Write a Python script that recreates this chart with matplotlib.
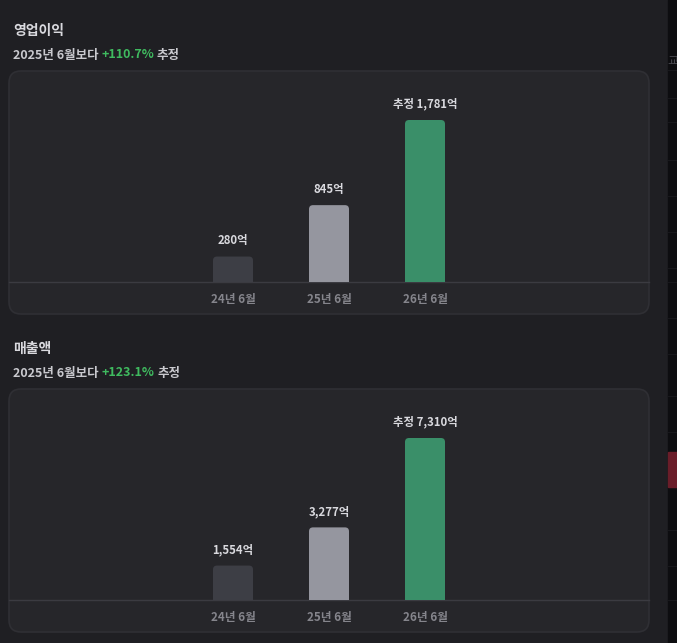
import matplotlib
matplotlib.use("Agg")
import matplotlib.pyplot as plt
from matplotlib.patches import FancyBboxPatch, Rectangle

plt.rcParams['font.family'] = ['Noto Sans CJK KR', 'DejaVu Sans']

# data
periods = ["24년 6월", "25년 6월", "26년 6월"]
op_profit = [280, 845, 1781]
revenue = [1554, 3277, 7310]
op_growth = "+110.7%"
rev_growth = "+123.1%"
estimated = [False, False, True]

W, H = 677, 643
BG = "#1f1f23"
PANEL = "#26262a"
BORDER = "#2f2f34"
BAR_COLORS = ["#3d3e45", "#95969f", "#3a8f69"]
GREEN = "#3fba5f"
TEXT = "#d9d9de"
SUB = "#c9c9ce"
TICK = "#85858c"

fig = plt.figure(figsize=(W / 100, H / 100), dpi=100)
fig.patch.set_facecolor(BG)

# background axes in pixel coords (y down)
bg = fig.add_axes([0, 0, 1, 1])
bg.set_xlim(0, W)
bg.set_ylim(H, 0)
bg.axis("off")

# right side strip of the page
bg.add_patch(Rectangle((668, 0), W - 668, H, color="#0d0d10", zorder=0))
for yy in [70, 98, 122, 160, 196, 232, 268, 282, 318, 354, 396, 432, 452, 487, 530, 566, 600]:
    bg.plot([668, W], [yy, yy], color="#18181c", lw=0.8, zorder=1)
bg.add_patch(Rectangle((668, 452), W - 668, 35, color="#6a1d29", zorder=1))
bg.text(667, 62, "교", color="#4a4a50", fontsize=9, va="center", ha="left")


def draw_section(top, title, growth, values):
    # title and subtitle
    bg.text(13, top + 31, title, color=TEXT, fontsize=10, fontweight="bold", va="center")
    t1 = bg.text(13, top + 55, "2025년 6월보다", color=SUB, fontsize=9,
                 fontweight="bold", va="center")
    t2 = bg.annotate(growth, xy=(1, 0), xycoords=t1, xytext=(2, 0),
                     textcoords="offset points", color=GREEN, fontsize=9,
                     fontweight="bold", va="bottom")
    bg.annotate("추정", xy=(1, 0), xycoords=t2, xytext=(2, 0),
                textcoords="offset points", color=SUB, fontsize=9,
                fontweight="bold", va="bottom")

    # panel
    p_top, p_bot = top + 71, top + 314
    bg.add_patch(FancyBboxPatch((9, p_top), 640, p_bot - p_top,
                                boxstyle="round,pad=0,rounding_size=12",
                                fc=PANEL, ec=BORDER, lw=1.2, zorder=2))
    base = top + 282
    bg.plot([9, 649], [base, base], color="#3b3b41", lw=1, zorder=3)

    # bar axes
    ax_h = base - p_top
    ax = fig.add_axes([9 / W, (H - base) / H, 640 / W, ax_h / H])
    ax.patch.set_alpha(0)
    for s in ax.spines.values():
        s.set_visible(False)
    x = range(len(values))
    ymax = max(values) * ax_h / 162
    ax.set_xlim((9 - 233) / 96, (649 - 233) / 96)
    ax.set_ylim(0, ymax)
    bars = ax.bar(x, values, width=40 / 96, color=BAR_COLORS, zorder=4)
    # rounded top corners
    aspect = (ymax / ax_h) * 96
    r = 4 / 96
    for b in bars:
        b.set_visible(False)
        ax.add_patch(FancyBboxPatch((b.get_x(), -r * aspect), b.get_width(),
                                    b.get_height() + r * aspect,
                                    boxstyle=f"round,pad=0,rounding_size={r}",
                                    mutation_aspect=aspect, fc=b.get_facecolor(),
                                    ec="none", zorder=4))
    ax.set_yticks([])
    ax.set_xticks(list(x))
    ax.set_xticklabels(periods, color=TICK, fontsize=8.4, fontweight="bold")
    ax.tick_params(axis="x", length=0, pad=8)
    for i, v in enumerate(values):
        label = f"{v:,}억"
        if estimated[i]:
            label = "추정 " + label
        ax.annotate(label, xy=(i, v), xytext=(0, 16), textcoords="offset pixels",
                    ha="center", va="center", color=TEXT, fontsize=8.2,
                    fontweight="bold")


draw_section(0, "영업이익", op_growth, op_profit)
draw_section(318, "매출액", rev_growth, revenue)

fig.savefig("out.png", dpi=100, facecolor=BG)
